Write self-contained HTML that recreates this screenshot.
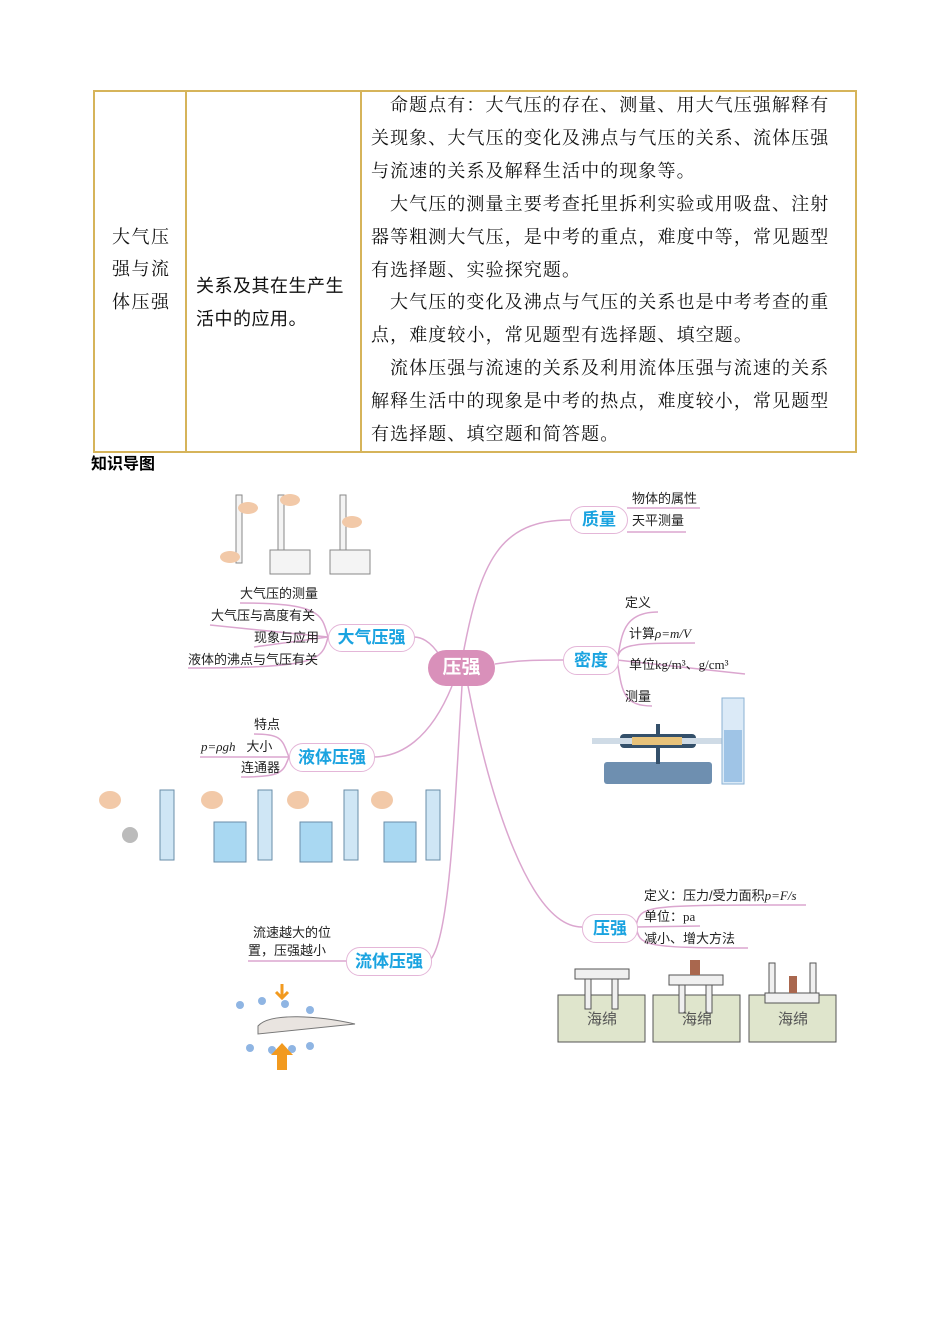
<!DOCTYPE html>
<html><head><meta charset="utf-8"><style>
body{margin:0;background:#fff;}
#p{position:relative;width:950px;height:1344px;overflow:hidden;font-family:"Liberation Serif","Noto Serif CJK SC",serif;color:#111;}
.t{position:absolute;white-space:nowrap;font-size:18px;letter-spacing:1.1px;line-height:20px;top:0;}
.s{position:absolute;white-space:nowrap;font-family:"Liberation Sans","Noto Sans CJK SC",sans-serif;font-size:13px;line-height:16px;color:#222;}
.n{position:absolute;border:1px solid #e4b6d8;border-radius:14px;background:#fff;color:#1aa3e0;font-family:"Liberation Sans","Noto Sans CJK SC",sans-serif;font-weight:bold;font-size:17px;text-align:center;}
</style></head><body><div id="p">
<svg width="950" height="1344" style="position:absolute;left:0;top:0">
<g fill="none" stroke="#d6b45a" stroke-width="2">
<rect x="94" y="91" width="762" height="361"/>
<line x1="186" y1="91" x2="186" y2="452"/><line x1="361" y1="91" x2="361" y2="452"/>
</g>
<g fill="none" stroke="#dba6cf" stroke-width="1.5">
<path d="M462 660 C480 560 500 520 570 520"/>
<path d="M495 664 C520 660 540 660 563 660"/>
<path d="M440 656 C430 640 420 637 414 637"/>
<path d="M452 686 C430 740 400 757 373 757"/>
<path d="M462 686 C455 800 450 940 430 960"/>
<path d="M468 686 C490 800 530 927 582 927"/>
<path d="M627 508 L700 508 M627 532 L686 532"/>
<path d="M617 660 C622 640 620 612 658 612 M617 660 C620 645 625 643 695 643 M617 660 L745 674 M617 660 C622 690 622 706 652 706"/>
<path d="M328 637 C322 615 322 603 240 603 M328 637 L210 625 M328 637 L254 647 M328 637 C322 660 320 668 188 668"/>
<path d="M289 757 C282 740 283 734 254 734 M289 757 L200 757 M289 757 C283 772 283 777 241 777"/>
<path d="M346 961 L248 961"/>
<path d="M636 927 C640 905 640 905 806 905 M636 927 L700 926 M636 927 C640 945 640 948 748 948"/>
</g>
<rect x="428" y="650" width="67" height="36" rx="18" fill="#d990ba"/>
<g stroke="#888" fill="#f4f4f4"><rect x="236" y="495" width="6" height="68"/><rect x="278" y="495" width="6" height="72"/><rect x="340" y="495" width="6" height="72"/>
<rect x="270" y="550" width="40" height="24"/><rect x="330" y="550" width="40" height="24"/></g>
<g fill="#f2c9a8"><ellipse cx="248" cy="508" rx="10" ry="6"/><ellipse cx="230" cy="557" rx="10" ry="6"/><ellipse cx="290" cy="500" rx="10" ry="6"/><ellipse cx="352" cy="522" rx="10" ry="6"/></g>
<g fill="#cfe6f5" stroke="#6a8da8"><rect x="160" y="790" width="14" height="70"/><rect x="258" y="790" width="14" height="70"/><rect x="344" y="790" width="14" height="70"/><rect x="426" y="790" width="14" height="70"/>
<rect x="214" y="822" width="32" height="40" fill="#a9d8f2"/><rect x="300" y="822" width="32" height="40" fill="#a9d8f2"/><rect x="384" y="822" width="32" height="40" fill="#a9d8f2"/></g>
<circle cx="130" cy="835" r="8" fill="#bbb"/>
<g fill="#f2c9a8"><ellipse cx="110" cy="800" rx="11" ry="9"/><ellipse cx="212" cy="800" rx="11" ry="9"/><ellipse cx="298" cy="800" rx="11" ry="9"/><ellipse cx="382" cy="800" rx="11" ry="9"/></g>
<g fill="#6e8fb0"><rect x="604" y="762" width="108" height="22" rx="3"/><rect x="620" y="734" width="76" height="14" rx="4" fill="#34506a"/>
<rect x="592" y="738" width="62" height="6" fill="#cfdbe6"/><rect x="660" y="738" width="62" height="6" fill="#cfdbe6"/><rect x="656" y="724" width="4" height="40" fill="#34506a"/></g>
<rect x="632" y="737" width="50" height="8" fill="#e7c27a"/>
<rect x="722" y="698" width="22" height="86" fill="#dbeaf7" stroke="#8bb2d3"/><rect x="724" y="730" width="18" height="52" fill="#9fc4e6"/>
<path d="M258 1026 C270 1012 320 1016 355 1024 L258 1034 Z" fill="#e9e4e0" stroke="#777"/>
<g fill="#8fb5e3"><circle cx="240" cy="1005" r="4"/><circle cx="262" cy="1001" r="4"/><circle cx="285" cy="1004" r="4"/><circle cx="310" cy="1010" r="4"/>
<circle cx="250" cy="1048" r="4"/><circle cx="272" cy="1050" r="4"/><circle cx="292" cy="1049" r="4"/><circle cx="310" cy="1046" r="4"/></g>
<path d="M282 984 V998 M276 992 L282 998 L288 992" stroke="#f29a1f" stroke-width="3" fill="none"/>
<path d="M277 1070 V1055 H271 L282 1043 L293 1055 H287 V1070 Z" fill="#f29a1f"/>
<g fill="#dfe5cc" stroke="#555"><rect x="558" y="995" width="87" height="47"/><rect x="653" y="995" width="87" height="47"/><rect x="749" y="995" width="87" height="47"/></g>
<g fill="#f0f0f0" stroke="#555"><rect x="575" y="969" width="54" height="10"/><rect x="585" y="979" width="6" height="30"/><rect x="612" y="979" width="6" height="30"/>
<rect x="669" y="975" width="54" height="10"/><rect x="679" y="985" width="6" height="28"/><rect x="706" y="985" width="6" height="28"/>
<rect x="765" y="993" width="54" height="10"/><rect x="769" y="963" width="6" height="30"/><rect x="810" y="963" width="6" height="30"/></g>
<rect x="690" y="960" width="10" height="15" fill="#a9674e"/><rect x="789" y="976" width="8" height="17" fill="#a9674e"/>
</svg>
<div class="t" style="left:390px;top:95px">命题点有：大气压的存在、测量、用大气压强解释有</div>
<div class="t" style="left:371px;top:128px">关现象、大气压的变化及沸点与气压的关系、流体压强</div>
<div class="t" style="left:371px;top:161px">与流速的关系及解释生活中的现象等。</div>
<div class="t" style="left:390px;top:194px">大气压的测量主要考查托里拆利实验或用吸盘、注射</div>
<div class="t" style="left:371px;top:227px">器等粗测大气压，是中考的重点，难度中等，常见题型</div>
<div class="t" style="left:371px;top:260px">有选择题、实验探究题。</div>
<div class="t" style="left:390px;top:292px">大气压的变化及沸点与气压的关系也是中考考查的重</div>
<div class="t" style="left:371px;top:325px">点，难度较小，常见题型有选择题、填空题。</div>
<div class="t" style="left:390px;top:358px">流体压强与流速的关系及利用流体压强与流速的关系</div>
<div class="t" style="left:371px;top:391px">解释生活中的现象是中考的热点，难度较小，常见题型</div>
<div class="t" style="left:371px;top:424px">有选择题、填空题和简答题。</div>
<div class="t" style="left:112px;top:227px;letter-spacing:1.5px">大气压</div>
<div class="t" style="left:112px;top:259px;letter-spacing:1.5px">强与流</div>
<div class="t" style="left:112px;top:292px;letter-spacing:1.5px">体压强</div>
<div class="t" style="left:196px;top:276px;letter-spacing:0.5px;font-family:'Liberation Sans','Noto Sans CJK SC',sans-serif">关系及其在生产生</div>
<div class="t" style="left:196px;top:309px;letter-spacing:0.5px;font-family:'Liberation Sans','Noto Sans CJK SC',sans-serif">活中的应用。</div>
<div class="s" style="left:91px;top:457px;font-size:16px;font-weight:bold;color:#000">知识导图</div>
<div class="s" style="left:428px;top:656px;width:67px;text-align:center;color:#fff;font-size:19px;line-height:24px;font-weight:bold">压强</div>
<div class="n" style="left:570px;top:506px;width:56px;height:26px;line-height:26px">质量</div>
<div class="n" style="left:328px;top:624px;width:85px;height:26px;line-height:26px">大气压强</div>
<div class="n" style="left:563px;top:646px;width:54px;height:27px;line-height:27px">密度</div>
<div class="n" style="left:289px;top:743px;width:84px;height:27px;line-height:27px">液体压强</div>
<div class="n" style="left:346px;top:947px;width:84px;height:27px;line-height:27px">流体压强</div>
<div class="n" style="left:582px;top:914px;width:54px;height:27px;line-height:27px">压强</div>
<div class="s" style="left:632px;top:491px">物体的属性</div>
<div class="s" style="left:632px;top:513px">天平测量</div>
<div class="s" style="left:240px;top:586px">大气压的测量</div>
<div class="s" style="left:211px;top:608px">大气压与高度有关</div>
<div class="s" style="left:254px;top:630px">现象与应用</div>
<div class="s" style="left:188px;top:652px">液体的沸点与气压有关</div>
<div class="s" style="left:625px;top:595px">定义</div>
<div class="s" style="left:629px;top:626px">计算<i style="font-family:'Liberation Serif'">ρ=m/V</i></div>
<div class="s" style="left:629px;top:657px">单位<span style="font-family:'Liberation Serif'">kg/m³、g/cm³</span></div>
<div class="s" style="left:625px;top:689px">测量</div>
<div class="s" style="left:254px;top:717px">特点</div>
<div class="s" style="left:201px;top:739px"><i style="font-family:'Liberation Serif'">p=ρgh</i>&nbsp;&nbsp;&nbsp;大小</div>
<div class="s" style="left:241px;top:760px">连通器</div>
<div class="s" style="left:253px;top:925px">流速越大的位</div>
<div class="s" style="left:248px;top:943px">置，压强越小</div>
<div class="s" style="left:644px;top:888px">定义：压力/受力面积<i style="font-family:'Liberation Serif'">p=F/s</i></div>
<div class="s" style="left:644px;top:909px">单位：<span style="font-family:'Liberation Serif'">pa</span></div>
<div class="s" style="left:644px;top:931px">减小、增大方法</div>
<div class="s" style="left:587px;top:1012px;font-size:15px;color:#555">海绵</div>
<div class="s" style="left:682px;top:1012px;font-size:15px;color:#555">海绵</div>
<div class="s" style="left:778px;top:1012px;font-size:15px;color:#555">海绵</div>
</div></body></html>
